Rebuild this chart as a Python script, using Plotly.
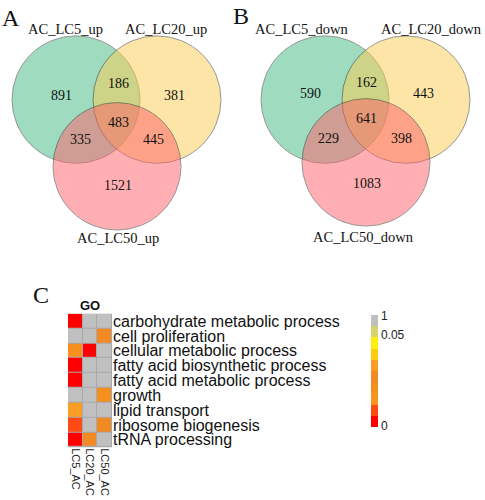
import plotly.graph_objects as go

# ---------------- data ----------------
venn_a_sets = ["AC_LC5_up", "AC_LC20_up", "AC_LC50_up"]
# regions: only1, only2, only3, 1&2, 1&3, 2&3, all
venn_a_counts = [891, 381, 1521, 186, 335, 445, 483]

venn_b_sets = ["AC_LC5_down", "AC_LC20_down", "AC_LC50_down"]
venn_b_counts = [590, 443, 1083, 162, 229, 398, 641]

go_terms = ["carbohydrate metabolic process", "cell proliferation",
            "cellular metabolic process", "fatty acid biosynthetic process",
            "fatty acid metabolic process", "growth", "lipid transport",
            "ribosome biogenesis", "tRNA processing"]
go_samples = ["LC5_AC", "LC20_AC", "LC50_AC"]
# colour level of each cell (0 = most significant ... 9 = not significant)
go_levels = [
    [0, 9, 9],
    [9, 9, 4],
    [3, 0, 9],
    [0, 9, 9],
    [0, 9, 9],
    [9, 9, 3],
    [5, 9, 9],
    [1, 9, 4],
    [0, 4, 9],
]
cbar_tick_labels = ["0", "0.05", "1"]
cbar_tick_levels = [-0.42, 7.7, 9.42]

level_colors = ["#ff0000", "#ff4a14", "#f7941e", "#f5901f", "#f28a24",
                "#f99e22", "#ffcc10", "#ffee10", "#d6d26e", "#c0c0c0"]

# ---------------- figure ----------------
W, H = 485, 500
fig = go.Figure()

# invisible canvas axis in pixel units
fig.add_trace(go.Scatter(x=[0, W], y=[0, H], mode="markers",
                         marker=dict(opacity=0), hoverinfo="skip",
                         showlegend=False, xaxis="x", yaxis="y"))

circle_fills = ["#41b981", "#fbcd51", "#ff6169"]
r = 64
venn_layouts = [
    dict(centers=[(76, 99), (157, 99), (117, 166)],
         sets=venn_a_sets, counts=venn_a_counts,
         label_pos=[(65, 28), (166, 28), (118, 238)],
         count_pos=[(61, 95), (174, 95), (118, 185), (118, 83),
                    (80, 139), (153, 139), (118, 122)],
         letter="A", letter_pos=(11, 17)),
    dict(centers=[(325, 99), (406, 99), (366, 162)],
         sets=venn_b_sets, counts=venn_b_counts,
         label_pos=[(301, 28), (431, 28), (363, 237)],
         count_pos=[(310, 93), (423, 93), (367, 183), (366, 82),
                    (328, 138), (401, 138), (366, 118)],
         letter="B", letter_pos=(241, 15)),
]

shapes = []
annotations = []
serif = "Liberation Serif, Times New Roman, serif"
sans = "Liberation Sans, Arial, sans-serif"
for v in venn_layouts:
    for (cx, cy), col in zip(v["centers"], circle_fills):
        shapes.append(dict(type="circle", xref="x", yref="y",
                           x0=cx - r, x1=cx + r, y0=cy - r, y1=cy + r,
                           fillcolor=col, opacity=0.5,
                           line=dict(color="#303030", width=1)))
    for (lx, ly), name in zip(v["label_pos"], v["sets"]):
        annotations.append(dict(x=lx, y=ly, xref="x", yref="y", text=name,
                                showarrow=False,
                                font=dict(family=serif, size=14.5, color="#111")))
    for (nx, ny), c in zip(v["count_pos"], v["counts"]):
        annotations.append(dict(x=nx, y=ny, xref="x", yref="y", text=str(c),
                                showarrow=False,
                                font=dict(family=serif, size=14, color="#111")))
    lx, ly = v["letter_pos"]
    annotations.append(dict(x=lx, y=ly, xref="x", yref="y", text=v["letter"],
                            showarrow=False,
                            font=dict(family=serif, size=24, color="#111")))

annotations.append(dict(x=41, y=295, xref="x", yref="y", text="C", showarrow=False,
                        font=dict(family=serif, size=24, color="#111")))
annotations.append(dict(x=90, y=306, xref="x", yref="y", text="<b>GO</b>",
                        showarrow=False, font=dict(family=sans, size=13, color="#111")))

# heatmap
hx0, hx1, hy0, hy1 = 68, 112, 314, 448
shapes.append(dict(type="rect", xref="x", yref="y", x0=hx0, x1=hx1, y0=hy0, y1=hy1,
                   fillcolor="#a8a8a8", line=dict(width=0), layer="below"))

n = len(level_colors)
colorscale = []
for i, c in enumerate(level_colors):
    colorscale.append([i / n, c])
    colorscale.append([(i + 1) / n, c])

fig.add_trace(go.Heatmap(
    z=go_levels, x=go_samples, y=go_terms, xaxis="x2", yaxis="y2",
    zmin=-0.5, zmax=n - 0.5, colorscale=colorscale, xgap=1, ygap=1,
    hoverinfo="skip",
    colorbar=dict(x=371 / W, xanchor="left", xpad=0, ypad=0,
                  y=1 - 315 / H, yanchor="top", len=112, lenmode="pixels",
                  thickness=7, thicknessmode="pixels", outlinewidth=0,
                  tickvals=cbar_tick_levels, ticktext=cbar_tick_labels,
                  ticks="", tickfont=dict(family=sans, size=12, color="#222")),
))

fig.update_layout(
    width=W, height=H, margin=dict(l=0, r=0, t=0, b=0),
    paper_bgcolor="white", plot_bgcolor="rgba(0,0,0,0)",
    shapes=shapes, annotations=annotations, showlegend=False,
    xaxis=dict(range=[0, W], domain=[0, 1], visible=False, fixedrange=True),
    yaxis=dict(range=[H, 0], domain=[0, 1], visible=False, fixedrange=True),
    xaxis2=dict(domain=[hx0 / W, hx1 / W], anchor="y2", side="bottom",
                tickangle=90, showgrid=False, zeroline=False, ticks="",
                tickmode="array", tickvals=go_samples,
                tickfont=dict(family=sans, size=11, color="#222")),
    yaxis2=dict(domain=[1 - hy1 / H, 1 - hy0 / H], anchor="x2", side="right",
                autorange="reversed", showgrid=False, zeroline=False, ticks="",
                tickmode="array", tickvals=go_terms,
                tickfont=dict(family=sans, size=16, color="#111")),
)

fig.write_html("out.html", config={"displayModeBar": False},
               post_script="document.body.style.margin='0';document.body.style.padding='0';")
